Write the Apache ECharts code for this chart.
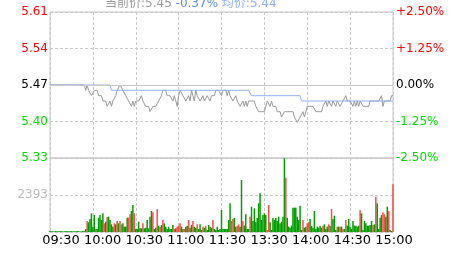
<!DOCTYPE html>
<html>
<head>
<meta charset="utf-8">
<script src="https://cdn.jsdelivr.net/npm/echarts@6/dist/echarts.min.js"></script>
<style>html,body{margin:0;padding:0;background:#fff;}#c{width:463px;height:255px;}</style>
</head>
<body>
<div id="c"></div>
<script>
const prevClose = 5.47;
const timeTicks = ['09:30','10:00','10:30','11:00','11:30','13:30','14:00','14:30','15:00'];
const priceTickLabels = ['5.33','5.40','5.47','5.54','5.61'];
const pctTickLabels = ['-2.50%','-1.25%','0.00%','+1.25%','+2.50%'];
const volTickLabels = ['2393'];
const volAxisMax = 4786;

const prices = [
5.47,5.47,5.47,5.47,5.47,5.47,5.47,5.47,5.47,5.47,
5.47,5.47,5.47,5.47,5.47,5.47,5.47,5.47,5.47,5.47,
5.47,5.47,5.47,5.47,5.47,5.46,5.47,5.46,5.46,5.45,
5.45,5.46,5.46,5.46,5.45,5.45,5.45,5.44,5.44,5.44,
5.43,5.43,5.44,5.43,5.44,5.44,5.45,5.46,5.46,5.47,
5.47,5.46,5.46,5.45,5.45,5.44,5.44,5.43,5.44,5.43,
5.44,5.44,5.44,5.44,5.45,5.44,5.44,5.43,5.43,5.43,
5.42,5.42,5.43,5.43,5.43,5.43,5.44,5.44,5.45,5.46,
5.46,5.46,5.45,5.45,5.45,5.45,5.44,5.45,5.44,5.43,
5.45,5.46,5.46,5.45,5.45,5.44,5.44,5.45,5.44,5.46,
5.45,5.44,5.46,5.45,5.45,5.44,5.44,5.45,5.44,5.44,
5.45,5.45,5.44,5.45,5.45,5.45,5.46,5.46,5.46,5.46,
5.45,5.46,5.46,5.46,5.45,5.46,5.45,5.45,5.44,5.44,
5.45,5.44,5.44,5.43,5.43,5.44,5.43,5.44,5.43,5.44,
5.44,5.44,5.44,5.44,5.43,5.43,5.42,5.42,5.42,5.42,
5.42,5.43,5.44,5.44,5.43,5.44,5.43,5.43,5.43,5.42,
5.42,5.42,5.41,5.41,5.42,5.42,5.42,5.42,5.42,5.42,
5.42,5.41,5.41,5.40,5.40,5.41,5.41,5.42,5.41,5.42,
5.43,5.43,5.43,5.43,5.43,5.43,5.42,5.42,5.42,5.42,
5.42,5.43,5.43,5.44,5.43,5.44,5.44,5.43,5.44,5.44,
5.43,5.44,5.44,5.43,5.43,5.44,5.44,5.45,5.44,5.44,
5.44,5.44,5.43,5.44,5.43,5.44,5.43,5.44,5.44,5.43,
5.43,5.43,5.43,5.43,5.44,5.44,5.44,5.44,5.44,5.44,
5.44,5.44,5.45,5.43,5.44,5.44,5.44,5.44,5.44,5.45,
5.45
];

const avgPrices = [
5.47,5.47,5.47,5.47,5.47,5.47,5.47,5.47,5.47,5.47,
5.47,5.47,5.47,5.47,5.47,5.47,5.47,5.47,5.47,5.47,
5.47,5.47,5.47,5.47,5.47,5.47,5.47,5.47,5.47,5.47,
5.47,5.47,5.47,5.47,5.47,5.47,5.47,5.47,5.47,5.47,
5.47,5.47,5.47,5.46,5.46,5.46,5.46,5.46,5.46,5.46,
5.46,5.46,5.46,5.46,5.46,5.46,5.46,5.46,5.46,5.46,
5.46,5.46,5.46,5.46,5.46,5.46,5.46,5.46,5.46,5.46,
5.46,5.46,5.46,5.46,5.46,5.46,5.46,5.46,5.46,5.46,
5.46,5.46,5.46,5.46,5.46,5.46,5.46,5.46,5.46,5.46,
5.46,5.46,5.46,5.46,5.46,5.46,5.46,5.46,5.46,5.46,
5.46,5.46,5.46,5.46,5.46,5.46,5.46,5.46,5.46,5.46,
5.46,5.46,5.46,5.46,5.46,5.46,5.46,5.46,5.46,5.46,
5.46,5.46,5.46,5.46,5.46,5.46,5.46,5.46,5.46,5.46,
5.46,5.46,5.46,5.46,5.46,5.46,5.46,5.46,5.46,5.46,
5.46,5.45,5.45,5.45,5.45,5.45,5.45,5.45,5.45,5.45,
5.45,5.45,5.45,5.45,5.45,5.45,5.45,5.45,5.45,5.45,
5.45,5.45,5.45,5.45,5.45,5.45,5.45,5.45,5.45,5.45,
5.45,5.45,5.45,5.45,5.45,5.45,5.44,5.44,5.44,5.44,
5.44,5.44,5.44,5.44,5.44,5.44,5.44,5.44,5.44,5.44,
5.44,5.44,5.44,5.44,5.44,5.44,5.44,5.44,5.44,5.44,
5.44,5.44,5.44,5.44,5.44,5.44,5.44,5.44,5.44,5.44,
5.44,5.44,5.44,5.44,5.44,5.44,5.44,5.44,5.44,5.44,
5.44,5.44,5.44,5.44,5.44,5.44,5.44,5.44,5.44,5.44,
5.44,5.44,5.44,5.44,5.44,5.44,5.44,5.44,5.44,5.44,
5.44
];

const volumes = [
60,40,50,30,60,50,40,60,50,30,40,60,50,40,50,60,30,50,40,60,50,40,30,60,50,
194,712,625,841,1208,345,1100,194,194,927,
1100,776,1208,561,668,970,992,776,496,345,
561,496,712,561,712,496,561,345,345,927,
927,1143,1359,1747,1208,194,194,668,237,237,
561,237,280,776,237,992,1359,1273,194,280,
1488,410,345,453,776,561,345,194,345,194,
194,453,194,237,345,410,561,345,194,194,
345,410,
776,280,453,712,345,280,496,194,496,129,
345,280,410,129,453,345,280,776,194,129,
345,129,194,1424,194,194,194,194,776,1855,
712,841,906,345,410,496,345,3365,712,410,
1143,194,194,992,1639,712,1531,625,906,1855,
2502,776,1100,1208,1100,129,1747,625,129,906,
776,906,712,992,561,668,992,4767,3516,927,
345,280,410,
1574,1574,1574,992,776,1704,129,776,280,345,
561,625,841,388,280,1359,194,345,280,410,
280,410,496,194,345,496,410,1488,841,1057,
129,345,345,345,345,194,194,776,410,841,
345,194,712,410,410,345,410,1424,1208,129,
712,561,410,410,453,712,453,496,2286,1855,
194,927,1100,1273,1143,992,1639,1359,129,65,
3084
];

const volUp = [
0,0,0,0,0,0,0,0,0,0,0,0,0,0,0,0,0,0,0,0,0,0,0,0,0,
0,1,0,0,0,0,0,1,0,0,
0,0,0,1,0,1,0,0,0,0,
1,0,1,0,1,1,0,0,0,0,
1,1,0,0,1,0,0,0,0,0,
1,0,0,0,0,0,0,1,0,0,
1,0,1,0,1,0,0,0,0,0,
0,0,1,0,1,1,1,0,0,1,
0,0,
1,0,0,1,0,0,1,0,0,0,
1,0,1,0,0,0,0,1,0,0,
0,0,0,0,0,0,0,0,0,0,
1,1,0,0,1,1,0,0,1,0,
0,0,0,1,0,0,0,0,0,0,
0,0,0,0,0,1,1,0,0,0,
0,0,0,0,0,0,0,0,1,0,
0,0,0,
0,0,0,0,0,0,0,1,0,0,
1,1,0,0,0,0,0,0,0,0,
0,1,0,0,0,1,0,1,0,0,
0,1,0,1,0,1,0,1,0,0,
0,0,0,0,0,0,0,1,0,0,
0,0,0,0,0,0,1,0,1,0,
0,0,0,1,1,0,0,1,0,0,
1
];

const UP = '#ff4a4a', DOWN = '#009e00';
const RED = '#ff0000', GREEN = '#00dd00';
const FONT = 'DejaVu Sans, Noto Sans CJK SC, sans-serif';
const GRIDC = '#c8c8c8';

const pct = p => (p / prevClose - 1) * 100;
const lastPrice = prices[prices.length - 1];
const lastAvg = avgPrices[avgPrices.length - 1];
const chg = pct(lastPrice);

const chart = echarts.init(document.getElementById('c'), null, {renderer: 'canvas'});
const dashed = {show: true, lineStyle: {color: GRIDC, type: [3, 2], width: 1}};
const xBase = {type: 'value', min: 0, max: 240, interval: 30,
  axisLine: {show: false}, axisTick: {show: false}, axisLabel: {show: false}, splitLine: dashed};

chart.setOption({
  animation: false,
  backgroundColor: '#fff',
  textStyle: {fontFamily: FONT},
  title: {
    left: 105, top: -2, padding: 0,
    text: '{a|当前价:' + lastPrice.toFixed(2) + '} {b|' + chg.toFixed(2) + '%} {c|均价:' + lastAvg.toFixed(2) + '}',
    textStyle: {fontSize: 12, fontWeight: 'normal', fontFamily: FONT,
      rich: {a: {color: '#999999', fontSize: 12, fontFamily: FONT},
             b: {color: '#5b8def', fontSize: 12, fontFamily: FONT},
             c: {color: '#8eb1ee', fontSize: 12, fontFamily: FONT}}}
  },
  grid: [
    {left: 50, right: 70, top: 12, height: 146, show: true, borderColor: GRIDC, borderWidth: 1, backgroundColor: 'transparent'},
    {left: 50, right: 70, top: 158, height: 74, show: true, borderColor: GRIDC, borderWidth: 1, backgroundColor: 'transparent'},
    {left: 61, right: 69, top: 158, height: 74, show: false}
  ],
  xAxis: [
    Object.assign({gridIndex: 0}, xBase),
    Object.assign({gridIndex: 1}, xBase),
    {gridIndex: 2, type: 'value', min: 0, max: 240, interval: 30,
     axisLine: {show: false}, axisTick: {show: false}, splitLine: {show: false},
     axisLabel: {show: true, margin: 2, color: '#000', fontSize: 13, fontFamily: FONT,
       formatter: v => timeTicks[Math.round(v / 30)] || ''}}
  ],
  yAxis: [
    {gridIndex: 0, type: 'value', position: 'left', min: -2.5, max: 2.5, interval: 1.25,
     axisLine: {show: false}, axisTick: {show: false}, splitLine: dashed,
     axisLabel: {margin: 2, fontSize: 12, fontFamily: FONT,
       formatter: v => priceTickLabels[Math.round((v + 2.5) / 1.25)],
       color: v => (+v > 0.001 ? RED : (+v < -0.001 ? GREEN : '#000'))}},
    {gridIndex: 0, type: 'value', position: 'right', min: -2.5, max: 2.5, interval: 1.25,
     axisLine: {show: false}, axisTick: {show: false}, splitLine: {show: false},
     axisLabel: {margin: 3, fontSize: 12, fontFamily: FONT,
       formatter: v => pctTickLabels[Math.round((v + 2.5) / 1.25)],
       color: v => (+v > 0.001 ? RED : (+v < -0.001 ? GREEN : '#000'))}},
    {gridIndex: 1, type: 'value', min: 0, max: volAxisMax, interval: volAxisMax / 2,
     axisLine: {show: false}, axisTick: {show: false}, splitLine: dashed,
     axisLabel: {margin: 2, fontSize: 12, fontFamily: FONT, color: '#bbbbbb',
       formatter: v => (Math.abs(v - volAxisMax / 2) < 1 ? volTickLabels[0] : '')}},
    {gridIndex: 2, type: 'value', show: false, min: 0, max: 1}
  ],
  series: [
    {type: 'line', xAxisIndex: 0, yAxisIndex: 0, showSymbol: false, silent: true,
     data: prices.map((p, i) => [i, pct(p)]),
     lineStyle: {color: '#999999', width: 1},
     markLine: {silent: true, symbol: 'none', label: {show: false},
       lineStyle: {color: GRIDC, type: 'solid', width: 1}, data: [{yAxis: 0}]}},
    {type: 'line', xAxisIndex: 0, yAxisIndex: 0, showSymbol: false, silent: true,
     data: avgPrices.map((p, i) => [i, pct(p)]),
     lineStyle: {color: '#8eb1ee', width: 1}},
    {type: 'bar', xAxisIndex: 1, yAxisIndex: 2, barWidth: 1.5, silent: true,
     data: volumes.map((v, i) => ({value: [i, v], itemStyle: {color: volUp[i] ? UP : DOWN}}))}
  ]
});
</script>
</body>
</html>
